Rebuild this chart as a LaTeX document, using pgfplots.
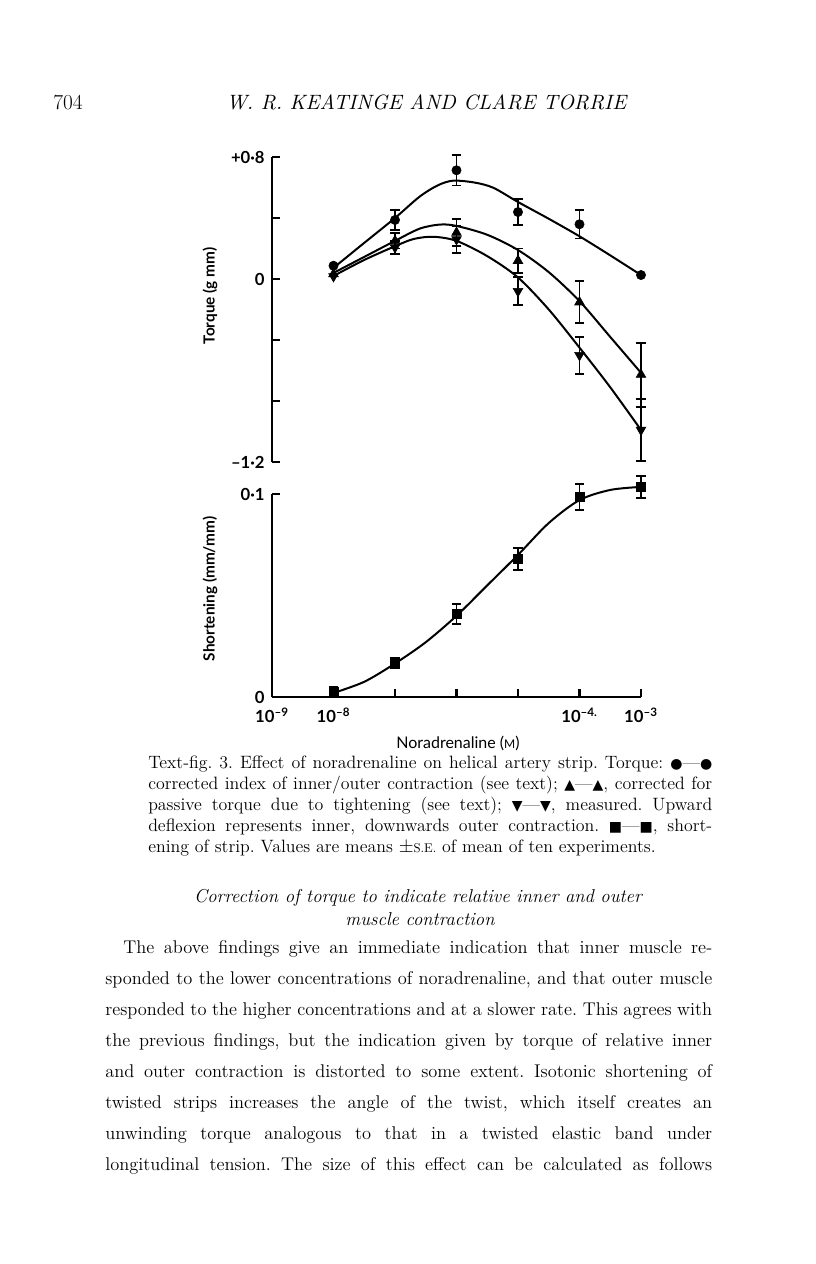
\documentclass[border=0pt]{standalone}
\usepackage{pgfplots}
\pgfplotsset{compat=1.18}
\usepackage{fontspec}
\usepackage{graphicx}
\newfontfamily\plotfont{Lato}
\newfontfamily\symfont{DejaVu Sans}
\newdimen\pxu \pxu=0.75bp
% justified line: x, baseline y, width (px), text
\newcommand\jl[4]{\node[anchor=base west,inner sep=0pt] at (#1,#2) {\makebox[#3\pxu][s]{#4}};}
\newcommand\sym[1]{{\symfont\fontsize{10.5bp}{10bp}\selectfont #1}}
\pgfplotsset{
  paper/.style={
    scale only axis, width=276.75bp, xmin=-9, xmax=-3, clip=false,
    tick align=inside, major tick length=6bp,
    axis line style={line width=2bp},
    every tick/.style={line width=2bp, black},
    ticklabel style={font=\plotfont\bfseries\fontsize{12.5bp}{13bp}\selectfont},
    yticklabel style={xshift=-2bp},
  },
  pts/.style={only marks, black,
    error bars/y dir=both, error bars/y explicit,
    error bars/error bar style={line width=1.4bp},
    error bars/error mark options={rotate=90, mark size=3.6bp, line width=1.4bp}},
  crv/.style={smooth, black, line width=1.5bp, no marks},
}
\begin{document}
\frenchspacing
\begin{tikzpicture}
\path[use as bounding box] (0,0) rectangle (612bp,-948bp);

% torque
\begin{axis}[paper, at={(204bp,-346.5bp)}, anchor=south west, height=228.75bp,
  ymin=-1.2, ymax=0.8, axis y line*=left, axis x line=none,
  ytick={-1.2,-0.8,-0.4,0,0.4,0.8}, yticklabels={–1·2,,,0,,+0·8}]
\addplot[crv] coordinates {(-8,0.073) (-7.5,0.237) (-7,0.40) (-6.6,0.54) (-6.3,0.615) (-6.05,0.645) (-5.7,0.632) (-5.4,0.598) (-5,0.505) (-4.5,0.395) (-4,0.28) (-3.5,0.155) (-3,0.026)};
\addplot[crv] coordinates {(-8,0.04) (-7.5,0.145) (-7,0.25) (-6.6,0.33) (-6.27,0.357) (-6,0.348) (-5.5,0.29) (-5,0.19) (-4.5,0.045) (-4,-0.145) (-3.5,-0.38) (-3,-0.615)};
\addplot[crv] coordinates {(-8,0.02) (-7.5,0.125) (-7,0.215) (-6.7,0.262) (-6.38,0.277) (-6,0.25) (-5.5,0.15) (-5,0.01) (-4.5,-0.20) (-4,-0.45) (-3.5,-0.71) (-3,-0.99)};
% circles
\addplot[pts, mark=*, mark size=3.5bp] coordinates {(-7,0.387) +- (0,0.063) (-6,0.713) +- (0,0.1) (-5,0.439) +- (0,0.085) (-4,0.359) +- (0,0.093)};
\addplot[only marks, black, mark=*, mark size=3.5bp] coordinates {(-8,0.087) (-3,0.026)};
% triangles up
\addplot[pts, mark=triangle*, mark size=4.2bp] coordinates {(-7,0.25) +- (0,0.05) (-6,0.304) +- (0,0.087) (-5,0.12) +- (0,0.08) (-4,-0.152) +- (0,0.137) (-3,-0.627) +- (0,0.21)};
\addplot[only marks, black, mark=triangle*, mark size=4.2bp] coordinates {(-8,0.033)};
% triangles down
\addplot[pts, mark=triangle*, mark size=4.2bp, mark options={rotate=180}] coordinates {(-7,0.207) +- (0,0.045) (-6,0.26) +- (0,0.087) (-5,-0.08) +- (0,0.092) (-4,-0.5) +- (0,0.122) (-3,-0.99) +- (0,0.205)};
\addplot[only marks, black, mark=triangle*, mark size=4.2bp, mark options={rotate=180}] coordinates {(-8,0.017)};
\end{axis}

% shortening
\begin{axis}[paper, at={(204bp,-522.75bp)}, anchor=south west, height=152.25bp,
  ymin=0, ymax=0.1, axis y line*=left, axis x line*=bottom,
  ytick={0,0.1}, yticklabels={0,0·1},
  xticklabel style={yshift=-5bp},
  xtick={-9,-8,-7,-6,-5,-4,-3},
  xticklabels={10\textsuperscript{–9},10\textsuperscript{–8},,,,10\textsuperscript{–4.},10\textsuperscript{–3}}]
\addplot[crv] coordinates {(-8,0.002) (-7.5,0.0075) (-7,0.0165) (-6.5,0.027) (-6,0.04) (-5.5,0.055) (-5,0.07) (-4.5,0.0857) (-4,0.097) (-3.5,0.102) (-3,0.1035)};
\addplot[pts, mark=square*, mark size=3.4bp] coordinates {(-8,0.0025) +- (0,0.0025) (-7,0.0167) +- (0,0.0025) (-6,0.041) +- (0,0.005) (-5,0.068) +- (0,0.0053) (-4,0.0985) +- (0,0.0064) (-3,0.1034) +- (0,0.0055)};
\end{axis}

\begin{scope}[x=0.75bp, y=-0.75bp]
% axis titles
\node[rotate=90, font=\plotfont\bfseries\fontsize{11.5bp}{12bp}\selectfont] at (210,296) {Torque (g mm)};
\node[rotate=90, font=\plotfont\bfseries\fontsize{11.5bp}{12bp}\selectfont] at (210,589) {Shortening (mm/mm)};
\node[font=\plotfont\fontsize{12bp}{13bp}\selectfont] at (458,743) {Noradrenaline ({\fontsize{9bp}{9bp}\selectfont M})};

% running head
\node[anchor=base west, inner sep=0pt, font=\fontsize{16bp}{18bp}\selectfont] at (53,109) {704};
\node[anchor=base west, inner sep=0pt, font=\itshape] at (226,109) {\resizebox{300bp}{!}{W. R. KEATINGE AND CLARE TORRIE}};

% caption
\begin{scope}[every node/.style={font=\fontsize{13.4bp}{14bp}\selectfont}]
\jl{148}{768}{564}{Text-fig. 3. Effect of noradrenaline on helical artery strip. Torque: \sym{●}—\sym{●}}
\jl{148}{789}{564}{corrected index of inner/outer contraction (see text); \sym{▲}—\sym{▲}, corrected for}
\jl{148}{810}{564}{passive torque due to tightening (see text); \sym{▼}—\sym{▼}, measured. Upward}
\jl{148}{831}{564}{deflexion represents inner, downwards outer contraction. \sym{■}—\sym{■}, short-}
\node[anchor=base west, inner sep=0pt] at (148,852) {ening of strip. Values are means $\pm${\fontsize{9.5bp}{10bp}\selectfont S.E.} of mean of ten experiments.};
\end{scope}

% section heading
\begin{scope}[every node/.style={font=\itshape\fontsize{14bp}{15bp}\selectfont}]
\node[anchor=base, inner sep=0pt] at (418,902) {Correction of torque to indicate relative inner and outer};
\node[anchor=base, inner sep=0pt] at (420,925) {muscle contraction};
\end{scope}

% body
\begin{scope}[every node/.style={font=\fontsize{13.8bp}{15bp}\selectfont}]
\jl{123}{953}{589}{The above findings give an immediate indication that inner muscle re-}
\jl{105}{984}{607}{sponded to the lower concentrations of noradrenaline, and that outer muscle}
\jl{105}{1015}{607}{responded to the higher concentrations and at a slower rate. This agrees with}
\jl{105}{1046}{607}{the previous findings, but the indication given by torque of relative inner}
\jl{105}{1077}{607}{and outer contraction is distorted to some extent. Isotonic shortening of}
\jl{105}{1108}{607}{twisted strips increases the angle of the twist, which itself creates an}
\jl{105}{1139}{607}{unwinding torque analogous to that in a twisted elastic band under}
\jl{105}{1170}{607}{longitudinal tension. The size of this effect can be calculated as follows}
\end{scope}
\end{scope}
\end{tikzpicture}
\end{document}
